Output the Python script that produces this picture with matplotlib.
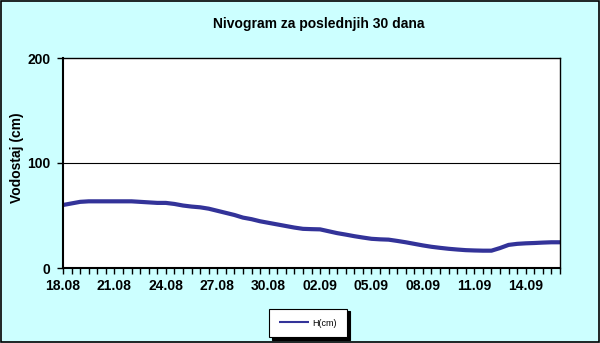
import matplotlib.pyplot as plt
import numpy as np
from matplotlib.ticker import MultipleLocator, FixedLocator

# water level readings, one every 12 hours (18.08 - 16.09)
level_cm = [60, 61.5, 63, 63.5, 63.5, 63.5, 63.5, 63.5, 63.5, 63,
            62.5, 62, 62, 61, 59.5, 58.5, 57.8, 56.5, 54.5, 52.5,
            50.5, 48, 46.5, 44.5, 43, 41.5, 40, 38.5, 37.3, 37,
            36.8, 35, 33.2, 31.8, 30.3, 29, 27.8, 27.3, 27, 25.8,
            24.5, 23, 21.5, 20.2, 19.2, 18.3, 17.6, 17, 16.7, 16.5,
            16.5, 19, 22, 23, 23.5, 23.8, 24.2, 24.5, 24.5]
date_labels = ['18.08', '21.08', '24.08', '27.08', '30.08',
               '02.09', '05.09', '08.09', '11.09', '14.09']
y_ticks = [0, 100, 200]

bg = '#CCFFFF'
line_col = '#333399'
font = 'Liberation Sans'

fig = plt.figure(figsize=(6, 3.43), dpi=100, facecolor=bg)
ax = fig.add_axes([63 / 600, 1 - 268 / 343, 497 / 600, 210 / 343])
ax.set_facecolor('white')

x = np.arange(len(level_cm))
ax.plot(x, level_cm, color=line_col, linewidth=3, solid_capstyle='butt', label='H(cm)')

ax.set_xlim(0, len(level_cm) - 1)
ax.set_ylim(0, 200)

# x axis: a tick every half day, a label every third day
ax.xaxis.set_major_locator(FixedLocator(np.arange(len(date_labels)) * 6))
ax.set_xticklabels(date_labels)
ax.xaxis.set_minor_locator(MultipleLocator(1))
ax.tick_params(axis='x', which='both', direction='out', length=4, width=1, pad=4)
ax.tick_params(axis='y', which='major', direction='out', length=4, width=1, pad=5)
ax.set_yticks(y_ticks)
for lab in ax.get_xticklabels() + ax.get_yticklabels():
    lab.set_fontfamily(font)
    lab.set_fontweight('bold')
    lab.set_fontsize(10)

ax.axhline(100, color='black', linewidth=0.8)
for sp in ax.spines.values():
    sp.set_color('black')
    sp.set_linewidth(1)
ax.spines['bottom'].set_linewidth(1.5)
ax.spines['left'].set_linewidth(1.5)

ax.set_ylabel('Vodostaj (cm)', fontfamily=font, fontweight='bold', fontsize=10)
ax.yaxis.set_label_coords(-0.079, 0.524)

fig.text(319 / 600, 1 - 24 / 343, 'Nivogram za poslednjih 30 dana',
         ha='center', va='center', fontfamily=font, fontweight='bold', fontsize=10)

leg = fig.legend(loc='center', bbox_to_anchor=(308 / 600, 1 - 323 / 343),
                 frameon=True, fancybox=False, shadow={'color': 'black', 'alpha': 1},
                 edgecolor='black', facecolor='white', framealpha=1,
                 prop={'family': font, 'size': 6.5}, handlelength=3.3,
                 borderpad=1.1, handletextpad=0.4, borderaxespad=0)
leg.get_lines()[0].set_linewidth(1.5)
leg.get_frame().set_linewidth(0.8)

# outer border of the chart
fig.patches.append(plt.Rectangle((0.001, 0.002), 0.997, 0.996, transform=fig.transFigure,
                                 fill=False, edgecolor='black', linewidth=1.2))

fig.savefig('out.png', dpi=100, facecolor=bg)
